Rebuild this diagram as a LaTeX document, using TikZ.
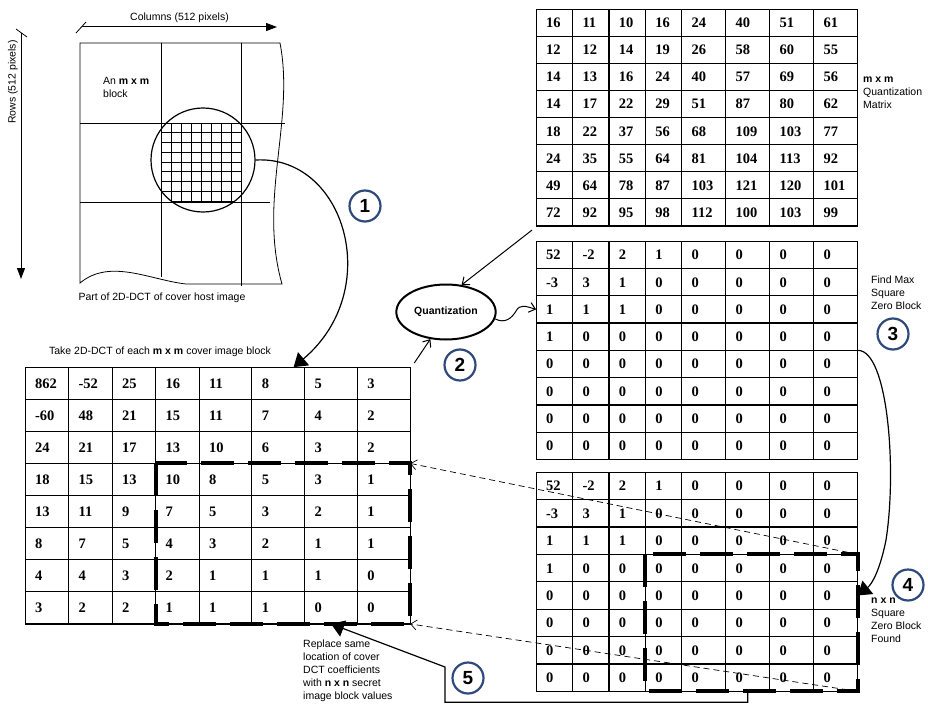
\documentclass[tikz,border=0pt]{standalone}
\usepackage{fontspec}
\setmainfont{Liberation Serif}
\setsansfont{Liberation Sans}
\usetikzlibrary{shapes.geometric, arrows.meta, positioning, matrix, calc}
\definecolor{stepblue}{HTML}{2E4A7C}
\tikzset{
  coefcell/.style={draw, line width=1.2pt, outer sep=0pt, inner xsep=10pt, inner ysep=0pt, text height=10pt, text depth=0pt, align=left, font=\fontsize{14.5}{14.5}\selectfont\bfseries},
  coefmat/.style 2 args={matrix of nodes, anchor=north west, column sep=-1.2pt, row sep=-1.2pt, nodes={coefcell, text width=#2},
    column 1/.style={nodes={text width=#1}}, column 2/.style={nodes={text width=#1}},
    column 3/.style={nodes={text width=#1}}, column 4/.style={nodes={text width=#1}}},
  lbl/.style={font=\sffamily\fontsize{10.5}{13}\selectfont, align=left, inner sep=0pt},
  stepnum/.style={circle, draw=stepblue, line width=2.2pt, minimum size=31pt, inner sep=0pt, font=\sffamily\bfseries\fontsize{19}{19}\selectfont},
  flow/.style={-{Triangle[length=13pt,width=17pt]}, line width=1.2pt},
  thinarrow/.style={-{Straight Barb[length=6pt,width=10pt]}, line width=1pt},
  link/.style={-{Straight Barb[length=6pt,width=10pt]}, line width=0.7pt, dash pattern=on 6pt off 4pt},
  zonebox/.style={line width=4pt, dash pattern=on 33pt off 14pt},
  dimarrow/.style={-{Triangle[length=11pt,width=8pt]}, line width=1pt},
  sketch/.style={line width=0.8pt},
}

\begin{document}
\begin{tikzpicture}[x=1pt, y=-1pt]
\useasboundingbox (0,0) rectangle (928,706);

% part of the host image
\draw[sketch] (80,283) -- (80,43) -- (280,43) .. controls (295,120) and (258,200) .. (282,284) -- (186,284) .. controls (150,280) and (110,258) .. cycle;
\draw[sketch] (161,43) -- (161,277) (241,43) -- (241,286) (80,123) -- (285,123) (80,202) -- (270,202);
\node[circle, draw, line width=1.2pt, minimum size=104pt, inner sep=0pt] (lens) at (203,160) {};
\begin{scope}
  \clip (203,160) circle[radius=52];
  \foreach \i in {0,...,8}
    \draw[sketch] (161+10*\i,123) -- (161+10*\i,201) (161,123+9.75*\i) -- (241,123+9.75*\i);
\end{scope}
\coordinate (colstart) at (82,27);
\coordinate (colend) at (277,27);
\draw[dimarrow] (colstart) -- node[lbl, above=4pt] (collbl) {Columns (512 pixels)} (colend);
\draw[sketch] (76,33) -- (86,22);
\coordinate (rowstart) at (21,33);
\coordinate (rowend) at (21,279);
\draw[dimarrow] (rowstart) -- (rowend);
\draw[sketch] (16,29) -- (27,37);
\node[lbl, rotate=90] (rowlbl) at (13,82) {Rows (512 pixels)};
\node[lbl, anchor=west] (blocklbl) at (103,87) {An \textbf{m x m}\\ block};
\node[lbl] (hostlbl) at (162,298) {Part of 2D-DCT of cover host image};

% coefficient tables
\matrix (quant) [coefmat={16.4pt}{24pt}, nodes={minimum height=27.1pt}] at (532,5) {
16 & 11 & 10 & 16 & 24 & 40 & 51 & 61 \\
12 & 12 & 14 & 19 & 26 & 58 & 60 & 55 \\
14 & 13 & 16 & 24 & 40 & 57 & 69 & 56 \\
14 & 17 & 22 & 29 & 51 & 87 & 80 & 62 \\
18 & 22 & 37 & 56 & 68 & 109 & 103 & 77 \\
24 & 35 & 55 & 64 & 81 & 104 & 113 & 92 \\
49 & 64 & 78 & 87 & 103 & 121 & 120 & 101 \\
72 & 92 & 95 & 98 & 112 & 100 & 103 & 99 \\
};
\matrix (mid) [coefmat={16.4pt}{24pt}, nodes={minimum height=27.3pt}] at (532,237) {
52 & -2 & 2 & 1 & 0 & 0 & 0 & 0 \\
-3 & 3 & 1 & 0 & 0 & 0 & 0 & 0 \\
1 & 1 & 1 & 0 & 0 & 0 & 0 & 0 \\
1 & 0 & 0 & 0 & 0 & 0 & 0 & 0 \\
0 & 0 & 0 & 0 & 0 & 0 & 0 & 0 \\
0 & 0 & 0 & 0 & 0 & 0 & 0 & 0 \\
0 & 0 & 0 & 0 & 0 & 0 & 0 & 0 \\
0 & 0 & 0 & 0 & 0 & 0 & 0 & 0 \\
};
\matrix (bot) [coefmat={16.4pt}{24pt}, nodes={minimum height=27.4pt}] at (532,468) {
52 & -2 & 2 & 1 & 0 & 0 & 0 & 0 \\
-3 & 3 & 1 & 0 & 0 & 0 & 0 & 0 \\
1 & 1 & 1 & 0 & 0 & 0 & 0 & 0 \\
1 & 0 & 0 & 0 & 0 & 0 & 0 & 0 \\
0 & 0 & 0 & 0 & 0 & 0 & 0 & 0 \\
0 & 0 & 0 & 0 & 0 & 0 & 0 & 0 \\
0 & 0 & 0 & 0 & 0 & 0 & 0 & 0 \\
0 & 0 & 0 & 0 & 0 & 0 & 0 & 0 \\
};
\matrix (dct) [coefmat={23.5pt}{32.75pt}, nodes={minimum height=32.1pt}] at (21,363) {
862 & -52 & 25 & 16 & 11 & 8 & 5 & 3 \\
-60 & 48 & 21 & 15 & 11 & 7 & 4 & 2 \\
24 & 21 & 17 & 13 & 10 & 6 & 3 & 2 \\
18 & 15 & 13 & 10 & 8 & 5 & 3 & 1 \\
13 & 11 & 9 & 7 & 5 & 3 & 2 & 1 \\
8 & 7 & 5 & 4 & 3 & 2 & 1 & 1 \\
4 & 4 & 3 & 2 & 1 & 1 & 1 & 0 \\
3 & 2 & 2 & 1 & 1 & 1 & 0 & 0 \\
};
\draw[zonebox] (dct-4-4.north west) rectangle (dct-8-8.south east);
\draw[zonebox] (bot-4-4.north west) rectangle (bot-8-8.south east);

\node[lbl] (dctlbl) at (160,352) {Take 2D-DCT of each \textbf{m x m} cover image block};
\node[lbl, anchor=west] (qlbl) at (863,93) {\textbf{m x m}\\Quantization\\Matrix};
\node[lbl, anchor=west] (findlbl) at (871,293) {Find Max\\Square\\Zero Block};
\node[lbl, anchor=west] (foundlbl) at (871,620) {\textbf{n x n}\\Square\\Zero Block\\Found};
\node[lbl, anchor=west] (replacelbl) at (303,671) {Replace same\\location of cover\\DCT coefficients\\with \textbf{n x n} secret\\image block values};

\node[ellipse, draw, line width=2pt, minimum width=98pt, minimum height=55pt, font=\sffamily\bfseries\fontsize{10.5}{12}\selectfont] (quantize) at (446,312) {Quantization};

\node[stepnum] (s1) at (365,206) {1};
\node[stepnum] (s2) at (460,365) {2};
\node[stepnum] (s3) at (893,334) {3};
\node[stepnum] (s4) at (908,585) {4};
\node[stepnum] (s5) at (468,678) {5};

% connectors
\draw[flow] (lens.east) .. controls (345,155) and (385,290) .. ([xshift=-11pt]dct-1-6.north east);
\draw[thinarrow] (quant.south west) -- (quantize.60);
\draw[thinarrow] (dct.north east) -- (quantize.240);
\draw[thinarrow] (quantize.-8) .. controls (505,324) and (512,318) .. (516,311) .. controls (520,304) and (525,306) .. (mid-3-1.west);
\draw[flow] (mid-4-8.south east) .. controls (888,350) and (897,470) .. (886,540) .. controls (880,570) and (872,584) .. (bot-5-8.east);
\coordinate (bend5) at (445,667);
\draw[flow] (bot-8-6.south) -- ++(0,11) -| (bend5) -- (dct-8-7.south);
\draw[link] (bot-4-8.north east) -- (dct-4-8.north east);
\draw[link] (bot-8-8.south east) -- (dct-8-8.south east);
\end{tikzpicture}
\end{document}
